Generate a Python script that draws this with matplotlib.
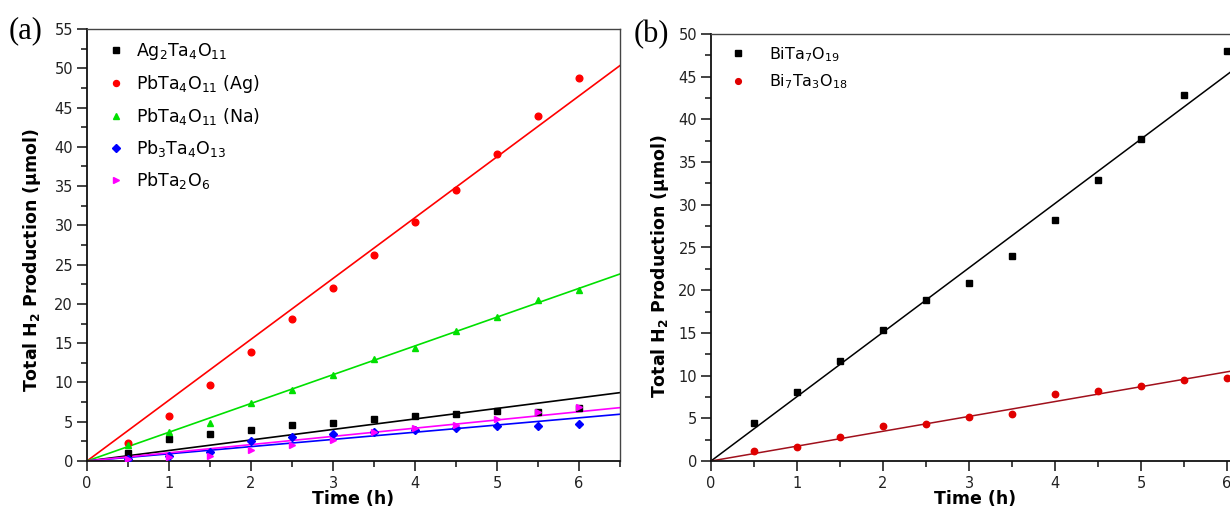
import matplotlib

matplotlib.use("Agg")

import matplotlib.pyplot as plt
import numpy as np
from matplotlib.ticker import MultipleLocator

# Sampling times (h) shared by every catalyst
time_h = np.array([0.5, 1.0, 1.5, 2.0, 2.5, 3.0, 3.5, 4.0, 4.5, 5.0, 5.5, 6.0])

# (a) total H2 evolved, umol
ag2ta4o11 = [1.0, 2.8, 3.4, 3.9, 4.6, 4.9, 5.3, 5.7, 6.0, 6.4, 6.3, 6.7]
pbta4o11_ag = [2.3, 5.7, 9.7, 13.9, 18.1, 22.0, 26.2, 30.4, 34.5, 39.1, 43.9, 48.8]
pbta4o11_na = [2.0, 3.7, 4.8, 7.4, 9.1, 11.0, 13.0, 14.4, 16.6, 18.3, 20.5, 21.8]
pb3ta4o13 = [0.3, 0.6, 1.2, 2.5, 3.0, 3.5, 3.7, 4.0, 4.2, 4.5, 4.5, 4.7]
pbta2o6 = [0.2, 0.5, 0.6, 1.4, 2.0, 2.7, 3.7, 4.2, 4.6, 5.3, 6.2, 6.9]

# (b) total H2 evolved, umol
bita7o19 = [4.4, 8.1, 11.7, 15.3, 18.9, 20.8, 24.0, 28.2, 32.9, 37.7, 42.9, 48.0]
bi7ta3o18 = [1.2, 1.6, 2.8, 4.1, 4.3, 5.1, 5.5, 7.9, 8.2, 8.8, 9.5, 9.7]

labels_a = [
    "Ag$_2$Ta$_4$O$_{11}$",
    "PbTa$_4$O$_{11}$ (Ag)",
    "PbTa$_4$O$_{11}$ (Na)",
    "Pb$_3$Ta$_4$O$_{13}$",
    "PbTa$_2$O$_6$",
]
labels_b = ["BiTa$_7$O$_{19}$", "Bi$_7$Ta$_3$O$_{18}$"]

plt.rcParams["font.family"] = ["DejaVu Sans"]
plt.rcParams["mathtext.default"] = "regular"


def slope_through_origin(x, y):
    y = np.asarray(y)
    return np.sum(x * y) / np.sum(x * x)


def style_axes(ax, xmax, ymax, ymajor):
    ax.set_xlim(0, xmax)
    ax.set_ylim(0, ymax)
    ax.xaxis.set_major_locator(MultipleLocator(1))
    ax.xaxis.set_minor_locator(MultipleLocator(0.5))
    ax.yaxis.set_major_locator(MultipleLocator(ymajor))
    ax.yaxis.set_minor_locator(MultipleLocator(ymajor / 2))
    ax.tick_params(which="both", direction="out", width=1.2, labelsize=10.5, colors="#222222")
    ax.tick_params(which="major", length=7)
    ax.tick_params(which="minor", length=4)
    ax.tick_params(axis="x", pad=4)
    ax.tick_params(axis="y", pad=3)
    for name, spine in ax.spines.items():
        spine.set_linewidth(1.3 if name in ("left", "bottom") else 1.0)
        spine.set_color("#111111" if name in ("left", "bottom") else "#444444")
    ax.set_xlabel("Time (h)", fontsize=12.5, fontweight="bold")
    ax.set_ylabel("Total H$_\\mathbf{2}$ Production (\u03bcmol)", fontsize=12.5, fontweight="bold")
    ax.yaxis.label.set_va("center")
    ax.xaxis.label.set_va("center")


fig = plt.figure(figsize=(12.3, 5.12), dpi=100)
W, H = 1230, 512

# ---- (a) lead / silver tantalates ----
ax_a = fig.add_axes([87 / W, (H - 461) / H, 533 / W, 432 / H])
series_a = [ag2ta4o11, pbta4o11_ag, pbta4o11_na, pb3ta4o13, pbta2o6]
colors_a = ["#000000", "#ff0000", "#00e000", "#0000ff", "#ff00ff"]
markers_a = ["s", "o", "^", "D", ">"]
sizes_a = [4.2, 4.8, 5.0, 4.2, 5.0]
xfit_a = np.array([0, 6.5])
for y, c, m, s, lab in zip(series_a, colors_a, markers_a, sizes_a, labels_a):
    ax_a.plot(xfit_a, slope_through_origin(time_h, y) * xfit_a, color=c, lw=1.2, zorder=2)
    ax_a.plot(time_h, y, ls="none", marker=m, ms=s, color=c, mec=c, label=lab, zorder=3)
style_axes(ax_a, 6.5, 55, 5)
ax_a.yaxis.set_label_coords((32 - 87) / 533, (461 - 260) / 432)
ax_a.xaxis.set_label_coords(0.5, (461 - 499) / 432)
ax_a.legend(
    loc="upper left",
    bbox_to_anchor=(20 / 533, 1 - 12 / 432),
    frameon=False,
    fontsize=12.5,
    numpoints=1,
    handlelength=1.0,
    handletextpad=0.65,
    labelspacing=0.63,
    borderpad=0,
    borderaxespad=0,
    markerscale=0.9,
)

# ---- (b) bismuth tantalates ----
ax_b = fig.add_axes([711 / W, (H - 461) / H, 529 / W, 427 / H])
series_b = [bita7o19, bi7ta3o18]
marker_colors_b = ["#000000", "#e00000"]
line_colors_b = ["#000000", "#a0101c"]
markers_b = ["s", "o"]
xfit_b = np.array([0, 6.15])
for y, mc, lc, m, lab in zip(series_b, marker_colors_b, line_colors_b, markers_b, labels_b):
    ax_b.plot(xfit_b, slope_through_origin(time_h, y) * xfit_b, color=lc, lw=1.1, zorder=2)
    ax_b.plot(time_h, y, ls="none", marker=m, ms=4.6, color=mc, mec=mc, label=lab, zorder=3)
style_axes(ax_b, 6.15, 50, 5)
ax_b.yaxis.set_label_coords((660 - 711) / 529, (461 - 266) / 427)
ax_b.xaxis.set_label_coords(0.5, (461 - 499) / 427)
ax_b.legend(
    loc="upper left",
    bbox_to_anchor=(19 / 529, 1 - 11 / 427),
    frameon=False,
    fontsize=11.5,
    numpoints=1,
    handlelength=1.0,
    handletextpad=1.45,
    labelspacing=0.55,
    borderpad=0,
    borderaxespad=0,
    markerscale=0.9,
)

fig.text(9 / W, 1 - 31 / H, "(a)", family="Liberation Serif", fontsize=22, ha="left", va="center")
fig.text(634 / W, 1 - 35 / H, "(b)", family="Liberation Serif", fontsize=22, ha="left", va="center")

fig.savefig("out.png", dpi=100, facecolor="white")
